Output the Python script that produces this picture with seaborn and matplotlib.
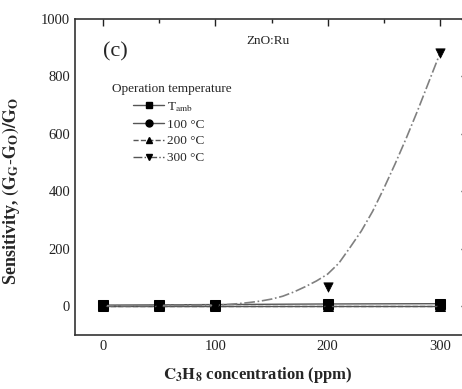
import pandas as pd
import matplotlib.pyplot as plt
import seaborn as sns
from matplotlib.lines import Line2D
from matplotlib.ticker import MultipleLocator

# data
conc = [0, 50, 100, 200, 300]
t_amb = [4, 5, 6, 8, 9]
t_100 = [1, 1, 1, 1, 1]
t_200 = [2, 2, 2, 2, 2]
t_300 = [1, 1, 2, 68, 880]

# fitted curve for 300 °C
fit_x = [0, 50, 100, 110, 120, 130, 140, 150, 160, 170, 180, 190, 200,
         210, 220, 230, 240, 250, 260, 270, 280, 290, 300]
fit_y = [2, 3, 4, 6, 9, 13, 18, 25, 35, 50, 68, 88, 112,
         150, 205, 262, 330, 410, 495, 585, 680, 780, 880]

sns.set_style("white")
plt.rcParams["font.family"] = ["Liberation Serif", "DejaVu Serif"]
plt.rcParams["mathtext.fontset"] = "stix"

fig = plt.figure(figsize=(4.62, 3.89), dpi=100)
ax = fig.add_axes([75 / 462, 54 / 389, 393 / 462, 316 / 389])

line_col = "#555555"
series = [
    ("T$_{\\rm amb}$", t_amb, "s", "-"),
    ("100 °C", t_100, "o", "-"),
    ("200 °C", t_200, "^", "--"),
]
handles = []
for name, vals, mk, ls in series:
    df = pd.DataFrame({"x": conc, "y": vals})
    sns.lineplot(data=df, x="x", y="y", ax=ax, color=line_col, linestyle=ls,
                 lw=1.0, marker=mk, markersize=7, markerfacecolor="black",
                 markeredgecolor="black", legend=False)
    handles.append(Line2D([], [], color=line_col, ls=ls, lw=1.0, marker=mk,
                          markersize=5, mfc="black", mec="black", label=name))

fit_df = pd.DataFrame({"x": fit_x, "y": fit_y})
sns.lineplot(data=fit_df, x="x", y="y", ax=ax, color="#808080",
             linestyle="-.", lw=1.2, legend=False)
pts = pd.DataFrame({"x": conc, "y": t_300})
sns.scatterplot(data=pts, x="x", y="y", ax=ax, marker="v", s=45,
                color="black", edgecolor="black", legend=False, zorder=5)
handles.append(Line2D([], [], color=line_col, ls="-.", lw=1.0, marker="v",
                      markersize=5, mfc="black", mec="black", label="300 °C"))

ax.set_xlim(-25, 325)
ax.set_ylim(-100, 1000)
ax.xaxis.set_major_locator(MultipleLocator(100))
ax.xaxis.set_minor_locator(MultipleLocator(50))
ax.yaxis.set_major_locator(MultipleLocator(200))
ax.yaxis.set_minor_locator(MultipleLocator(100))
ax.tick_params(which="both", direction="in", top=True, right=True,
               labelsize=10.5, width=1, colors="#222222")
ax.tick_params(which="major", length=5)
ax.tick_params(which="minor", length=3)
for s in ax.spines.values():
    s.set_linewidth(1.2)
    s.set_color("#333333")

ax.set_xlabel("$\\mathbf{C_3H_8}$ concentration (ppm)", fontsize=12,
              fontweight="bold")
ax.xaxis.set_label_coords(0.465, -0.095)
ax.set_ylabel("Sensitivity, $\\mathbf{(G_G\\text{-}G_O)/G_O}$",
              fontsize=13, fontweight="bold")
ax.yaxis.set_label_coords(-0.135, 0.455)

ax.text(0.07, 0.88, "(c)", transform=ax.transAxes, fontsize=16)
ax.text(0.435, 0.92, "ZnO:Ru", transform=ax.transAxes, fontsize=9.5)
ax.text(0.095, 0.768, "Operation temperature", transform=ax.transAxes,
        fontsize=9.5)

ax.legend(handles=handles, loc="upper left", bbox_to_anchor=(0.13, 0.765),
          frameon=False, fontsize=9.5, handlelength=2.4,
          handletextpad=0.2, labelspacing=0.35, borderpad=0)

fig.savefig("out.png", dpi=100)
